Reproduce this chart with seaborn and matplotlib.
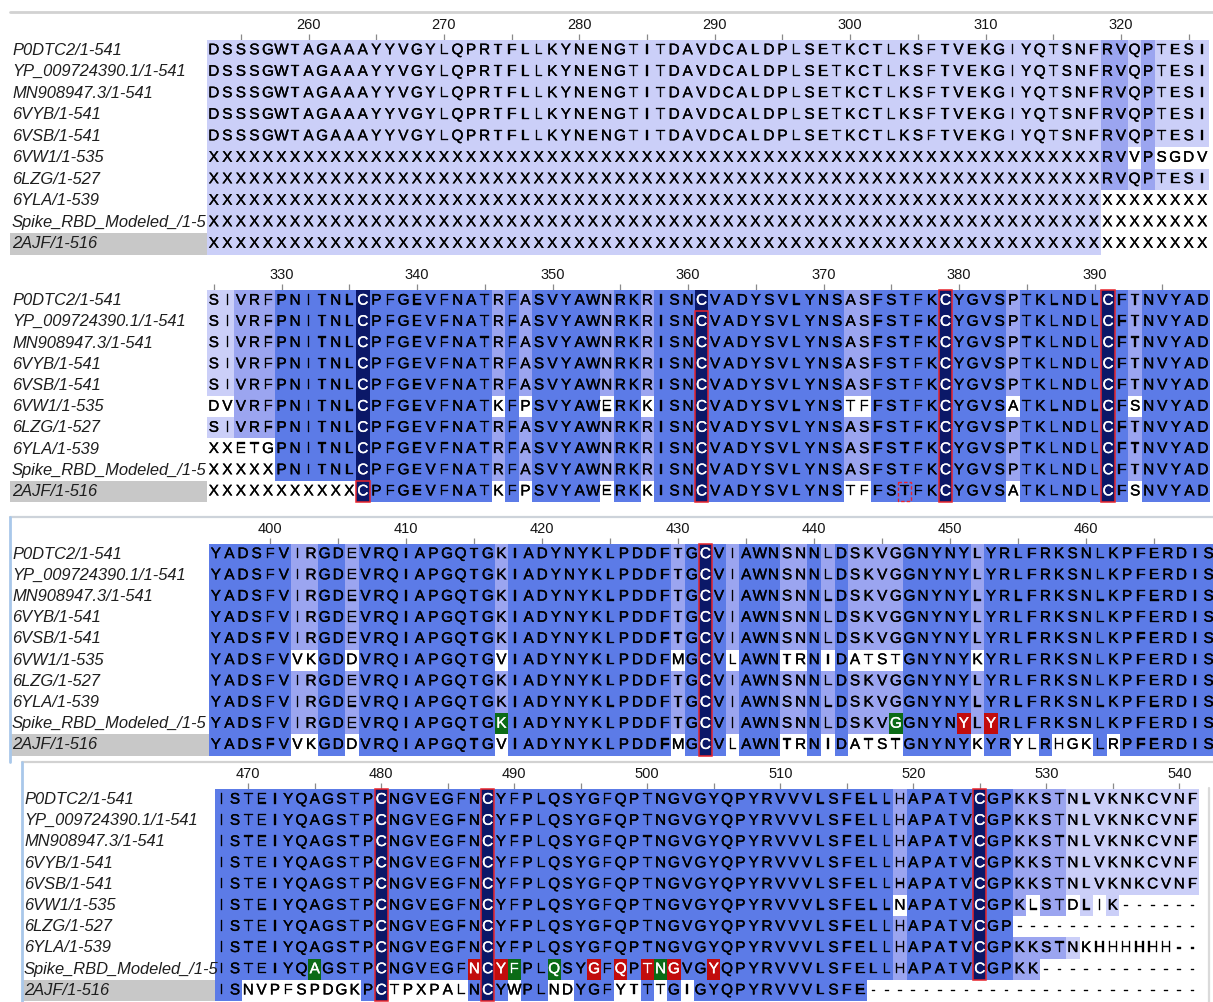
import numpy as np
import pandas as pd
import seaborn as sns
import matplotlib
matplotlib.use("Agg")
import matplotlib.pyplot as plt
import matplotlib.patheffects as pe
from matplotlib.colors import ListedColormap
from matplotlib.patches import Rectangle
from matplotlib.lines import Line2D
from matplotlib.transforms import blended_transform_factory

# ---------------------------------------------------------------- data
seq_names = ["P0DTC2/1-541", "YP_009724390.1/1-541", "MN908947.3/1-541",
             "6VYB/1-541", "6VSB/1-541", "6VW1/1-535", "6LZG/1-527",
             "6YLA/1-539", "Spike_RBD_Modeled_/1-5", "2AJF/1-516"]

block_starts = [253, 325, 396, 468]

block1_rows = [
    "DSSSGWTAGAAAYYVGYLQPRTFLLKYNENGTITDAVDCALDPLSETKCTLKSFTVEKGIYQTSNFRVQPTESI",
    "DSSSGWTAGAAAYYVGYLQPRTFLLKYNENGTITDAVDCALDPLSETKCTLKSFTVEKGIYQTSNFRVQPTESI",
    "DSSSGWTAGAAAYYVGYLQPRTFLLKYNENGTITDAVDCALDPLSETKCTLKSFTVEKGIYQTSNFRVQPTESI",
    "DSSSGWTAGAAAYYVGYLQPRTFLLKYNENGTITDAVDCALDPLSETKCTLKSFTVEKGIYQTSNFRVQPTESI",
    "DSSSGWTAGAAAYYVGYLQPRTFLLKYNENGTITDAVDCALDPLSETKCTLKSFTVEKGIYQTSNFRVQPTESI",
    "XXXXXXXXXX" "XXXXXXXXXX" "XXXXXXXXXX" "XXXXXXXXXX" "XXXXXXXXXX" "XXXXXXXXXX" "XXXXXX" "RVVPSGDV",
    "XXXXXXXXXX" "XXXXXXXXXX" "XXXXXXXXXX" "XXXXXXXXXX" "XXXXXXXXXX" "XXXXXXXXXX" "XXXXXX" "RVQPTESI",
    "XXXXXXXXXX" "XXXXXXXXXX" "XXXXXXXXXX" "XXXXXXXXXX" "XXXXXXXXXX" "XXXXXXXXXX" "XXXXXXXXXX" "XXXX",
    "XXXXXXXXXX" "XXXXXXXXXX" "XXXXXXXXXX" "XXXXXXXXXX" "XXXXXXXXXX" "XXXXXXXXXX" "XXXXXXXXXX" "XXXX",
    "XXXXXXXXXX" "XXXXXXXXXX" "XXXXXXXXXX" "XXXXXXXXXX" "XXXXXXXXXX" "XXXXXXXXXX" "XXXXXXXXXX" "XXXX",
]

block2_rows = [
    "SIVRFPNITNLCPFGEVFNATRFASVYAWNRKRISNCVADYSVLYNSASFSTFKCYGVSPTKLNDLCFTNVYAD",
    "SIVRFPNITNLCPFGEVFNATRFASVYAWNRKRISNCVADYSVLYNSASFSTFKCYGVSPTKLNDLCFTNVYAD",
    "SIVRFPNITNLCPFGEVFNATRFASVYAWNRKRISNCVADYSVLYNSASFSTFKCYGVSPTKLNDLCFTNVYAD",
    "SIVRFPNITNLCPFGEVFNATRFASVYAWNRKRISNCVADYSVLYNSASFSTFKCYGVSPTKLNDLCFTNVYAD",
    "SIVRFPNITNLCPFGEVFNATRFASVYAWNRKRISNCVADYSVLYNSASFSTFKCYGVSPTKLNDLCFTNVYAD",
    "DVVRFPNITNLCPFGEVFNATKFPSVYAWERKKISNCVADYSVLYNSTFFSTFKCYGVSATKLNDLCFSNVYAD",
    "SIVRFPNITNLCPFGEVFNATRFASVYAWNRKRISNCVADYSVLYNSASFSTFKCYGVSPTKLNDLCFTNVYAD",
    "XXETGPNITNLCPFGEVFNATRFASVYAWNRKRISNCVADYSVLYNSASFSTFKCYGVSPTKLNDLCFTNVYAD",
    "XXXXXPNITNLCPFGEVFNATRFASVYAWNRKRISNCVADYSVLYNSASFSTFKCYGVSPTKLNDLCFTNVYAD",
    "XXXXXXXXXXXCPFGEVFNATKFPSVYAWERKKISNCVADYSVLYNSTFFSTFKCYGVSATKLNDLCFSNVYAD",
]

block3_rows = [
    "YADSFVIRGDEVRQIAPGQTGKIADYNYKLPDDFTGCVIAWNSNNLDSKVGGNYNYLYRLFRKSNLKPFERDIS",
    "YADSFVIRGDEVRQIAPGQTGKIADYNYKLPDDFTGCVIAWNSNNLDSKVGGNYNYLYRLFRKSNLKPFERDIS",
    "YADSFVIRGDEVRQIAPGQTGKIADYNYKLPDDFTGCVIAWNSNNLDSKVGGNYNYLYRLFRKSNLKPFERDIS",
    "YADSFVIRGDEVRQIAPGQTGKIADYNYKLPDDFTGCVIAWNSNNLDSKVGGNYNYLYRLFRKSNLKPFERDIS",
    "YADSFVIRGDEVRQIAPGQTGKIADYNYKLPDDFTGCVIAWNSNNLDSKVGGNYNYLYRLFRKSNLKPFERDIS",
    "YADSFVVKGDDVRQIAPGQTGVIADYNYKLPDDFMGCVLAWNTRNIDATSTGNYNYKYRLFRKSNLKPFERDIS",
    "YADSFVIRGDEVRQIAPGQTGKIADYNYKLPDDFTGCVIAWNSNNLDSKVGGNYNYLYRLFRKSNLKPFERDIS",
    "YADSFVIRGDEVRQIAPGQTGKIADYNYKLPDDFTGCVIAWNSNNLDSKVGGNYNYLYRLFRKSNLKPFERDIS",
    "YADSFVIRGDEVRQIAPGQTGKIADYNYKLPDDFTGCVIAWNSNNLDSKVGGNYNYLYRLFRKSNLKPFERDIS",
    "YADSFVVKGDDVRQIAPGQTGVIADYNYKLPDDFMGCVLAWNTRNIDATSTGNYNYKYRYLRHGKLRPFERDIS",
]

block4_rows = [
    "ISTEIYQAGSTPCNGVEGFNCYFPLQSYGFQPTNGVGYQPYRVVVLSFELLHAPATVCGPKKSTNLVKNKCVNF",
    "ISTEIYQAGSTPCNGVEGFNCYFPLQSYGFQPTNGVGYQPYRVVVLSFELLHAPATVCGPKKSTNLVKNKCVNF",
    "ISTEIYQAGSTPCNGVEGFNCYFPLQSYGFQPTNGVGYQPYRVVVLSFELLHAPATVCGPKKSTNLVKNKCVNF",
    "ISTEIYQAGSTPCNGVEGFNCYFPLQSYGFQPTNGVGYQPYRVVVLSFELLHAPATVCGPKKSTNLVKNKCVNF",
    "ISTEIYQAGSTPCNGVEGFNCYFPLQSYGFQPTNGVGYQPYRVVVLSFELLHAPATVCGPKKSTNLVKNKCVNF",
    "ISTEIYQAGSTPCNGVEGFNCYFPLQSYGFQPTNGVGYQPYRVVVLSFELLNAPATVCGPKLSTDLIK" "------",
    "ISTEIYQAGSTPCNGVEGFNCYFPLQSYGFQPTNGVGYQPYRVVVLSFELLHAPATVCGP" "----------" "----",
    "ISTEIYQAGSTPCNGVEGFNCYFPLQSYGFQPTNGVGYQPYRVVVLSFELLHAPATVCGPKKSTNKHHHHHH" "--",
    "ISTEIYQAGSTPCNGVEGFNCYFPLQSYGFQPTNGVGYQPYRVVVLSFELLHAPATVCGPKK" "----------" "--",
    "ISNVPFSPDGKPCTPXPALNCYWPLNDYGFYTTTGIGYQPYRVVVLSFE" "----------" "----------" "-----",
]

all_blocks = [block1_rows, block2_rows, block3_rows, block4_rows]

# annotation features
disulfide_cols = [336, 361, 379, 391, 432, 480, 488, 525]
disulfide_outline_rows = {336: (9, 9), 361: (1, 9), 379: (0, 9), 391: (0, 9),
                          432: (0, 9), 480: (0, 9), 488: (0, 9), 525: (0, 8)}
modeled_row = 8
green_sites = [417, 446, 475, 490, 493, 501]
red_sites = [451, 453, 487, 489, 496, 498, 500, 502, 505]
dashed_sites = [(9, 376)]

# ---------------------------------------------------------------- styling / layout
sns.set_style("white")
plt.rcParams["font.family"] = ["Liberation Sans", "DejaVu Sans"]

W, H = 1213, 1002
layout = [
    dict(x0=207, w=13.54, top=39.5, h=21.5, lab=12, box=10),
    dict(x0=207, w=13.55, top=290.0, h=21.2, lab=12, box=10),
    dict(x0=209, w=13.60, top=543.5, h=21.2, lab=12, box=10),
    dict(x0=215, w=13.30, top=789.0, h=21.2, lab=24, box=22),
]

palette = ["#FFFFFF", "#CBCFF8", "#9BA5F0", "#5C7BE7", "#0B1868", "#0B6B16", "#C20C0C"]
cmap = ListedColormap(palette)

fig = plt.figure(figsize=(W / 100, H / 100), dpi=100)


def pid_codes(rows):
    arr = np.array([list(r) for r in rows])
    n, m = arr.shape
    codes = np.zeros((n, m), dtype=int)
    for j in range(m):
        col = arr[:, j]
        res = col[col != "-"]
        if res.size == 0:
            continue
        vals, counts = np.unique(res, return_counts=True)
        top = counts.max()
        pct = 100.0 * top / n
        lvl = 3 if pct > 80 else 2 if pct > 60 else 1 if pct > 40 else 0
        modal = set(vals[counts == top])
        for i in range(n):
            if col[i] in modal:
                codes[i, j] = lvl
    return arr, codes


def px_line(x0, y0, x1, y1, color, lw):
    fig.add_artist(Line2D([x0 / W, x1 / W], [1 - y0 / H, 1 - y1 / H],
                          color=color, lw=lw, transform=fig.transFigure))


# frame lines from the original screenshots
px_line(10, 12, 1213, 12, "#D2D2D2", 2.0)
px_line(10, 517, 1213, 517, "#CDD3DA", 1.6)
px_line(10, 517, 10, 762, "#A9C8EA", 2.0)
px_line(22, 762, 1213, 762, "#D2D2D2", 1.6)
px_line(22, 762, 22, 1002, "#A9C8EA", 2.0)
px_line(1209, 788, 1209, 1002, "#DADADA", 1.6)

for rows, start, L in zip(all_blocks, block_starts, layout):
    arr, codes = pid_codes(rows)
    ncol = arr.shape[1]
    positions = list(range(start, start + ncol))

    for p in disulfide_cols:
        if start <= p < start + ncol:
            j = p - start
            for i in range(arr.shape[0]):
                if arr[i, j] == "C":
                    codes[i, j] = 4
    for p in green_sites:
        if start <= p < start + ncol:
            codes[modeled_row, p - start] = 5
    for p in red_sites:
        if start <= p < start + ncol:
            codes[modeled_row, p - start] = 6

    ax = fig.add_axes([L["x0"] / W, 1 - (L["top"] + 10 * L["h"]) / H,
                       ncol * L["w"] / W, 10 * L["h"] / H])
    df = pd.DataFrame(codes, index=seq_names, columns=positions)
    sns.heatmap(df, ax=ax, cmap=cmap, vmin=-0.5, vmax=len(palette) - 0.5,
                cbar=False, annot=arr, fmt="", linewidths=0,
                annot_kws=dict(fontsize=11),
                xticklabels=False, yticklabels=False)
    for t, c in zip(ax.texts, codes.flat):
        col = "white" if c >= 4 else "black"
        t.set_color(col)
        t.set_path_effects([pe.withStroke(linewidth=0.25, foreground=col)])

    # ruler
    tick_pos = [k + 0.5 for k, p in enumerate(positions) if p % 5 == 0]
    tick_lab = [str(p) if p % 10 == 0 else "" for p in positions if p % 5 == 0]
    ax.set_xticks(tick_pos)
    ax.set_xticklabels(tick_lab, rotation=0)
    ax.xaxis.tick_top()
    ax.tick_params(axis="x", top=True, bottom=False, labeltop=True, labelbottom=False,
                   length=4, width=0.9, color="#8A8A8A", pad=1.5,
                   labelsize=10.5, labelcolor="#151515")
    ax.tick_params(axis="y", left=False, labelleft=False)
    ax.set_xlabel("")
    ax.set_ylabel("")

    # sequence names
    btr = blended_transform_factory(fig.transFigure, ax.transData)
    ax.add_patch(Rectangle((L["box"] / W, 9), (L["x0"] - L["box"]) / W, 1,
                           transform=btr, facecolor="#C8C8C8", edgecolor="none",
                           clip_on=False, zorder=0))
    for i, name in enumerate(seq_names):
        ax.text(L["lab"] / W, i + 0.5, name, transform=btr, ha="left", va="center",
                fontsize=11.9, style="italic", color="#1E1E1E", clip_on=False)

    # disulfide outlines
    for p in disulfide_cols:
        if start <= p < start + ncol:
            r0, r1 = disulfide_outline_rows[p]
            ax.add_patch(Rectangle((p - start, r0), 1, r1 - r0 + 1, fill=False,
                                   edgecolor="#E8242C", lw=1.1, clip_on=False, zorder=5))
    for (r, p) in dashed_sites:
        if start <= p < start + ncol:
            ax.add_patch(Rectangle((p - start + 0.02, r + 0.04), 0.96, 0.92, fill=False,
                                   edgecolor="#E8242C", lw=1.0, ls=(0, (2.5, 1.5)),
                                   clip_on=False, zorder=5))

fig.savefig("out.png", dpi=100)
